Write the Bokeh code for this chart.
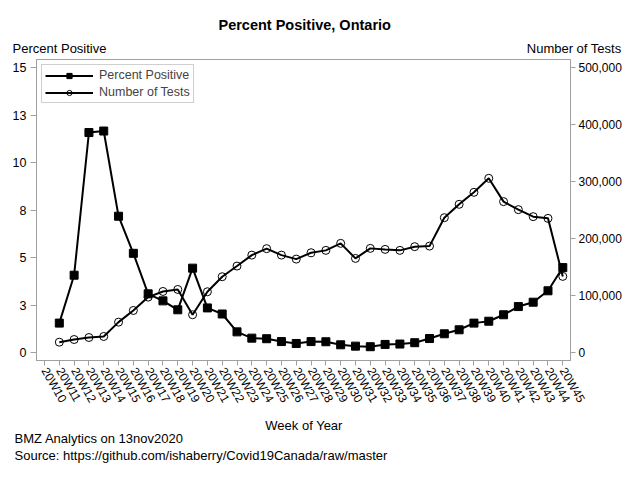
import math
from bokeh.plotting import figure
from bokeh.models import (Range1d, LinearAxis, FixedTicker, NumeralTickFormatter,
                          Label, Legend, LegendItem)
from bokeh.embed import file_html
from bokeh.resources import INLINE

# datos (la semana 20W10 no tiene valor)
semanas = ["20W%d" % n for n in range(10, 46)]
porcentaje_positivo = [math.nan, 1.56, 4.08, 11.58, 11.66, 7.18, 5.23, 3.10, 2.73, 2.26,
                       4.45, 2.36, 2.04, 1.10, 0.77, 0.74, 0.59, 0.49, 0.59, 0.58,
                       0.42, 0.35, 0.32, 0.44, 0.46, 0.53, 0.75, 1.00, 1.21, 1.56,
                       1.66, 2.00, 2.43, 2.66, 3.26, 4.48]
numero_pruebas = [math.nan, 18600, 23300, 26800, 28600, 53700, 74200, 97600, 107500, 111000,
                  66700, 107000, 133300, 152000, 171200, 182500, 171200, 164200, 175400, 179500,
                  191800, 165400, 183000, 181200, 179500, 186000, 187000, 236800, 260200, 281200,
                  305800, 264900, 250900, 238600, 235600, 133900]

ticks_izq = [0, 2.5, 5, 7.5, 10, 12.5, 15]
etiquetas_izq = ["0", "3", "5", "8", "10", "13", "15"]
ticks_der = [0, 100000, 200000, 300000, 400000, 500000]

FUENTE = "Liberation Sans"
GRIS = "#a0a0a0"

ANCHO, ALTO = 624, 464
BORDE_IZQ, BORDE_DER, BORDE_SUP, BORDE_INF = 36, 53, 59, 104
X0, X1 = -0.54, 35.52
Y0, Y1 = -0.405, 15.42
marco_w = ANCHO - BORDE_IZQ - BORDE_DER
marco_h = ALTO - BORDE_SUP - BORDE_INF


def px_a_x(px):
    return X0 + (px - BORDE_IZQ) * (X1 - X0) / marco_w


def px_a_y(py):
    return Y1 - (py - BORDE_SUP) * (Y1 - Y0) / marco_h


x = list(range(len(semanas)))

p = figure(width=ANCHO, height=ALTO, output_backend="svg", toolbar_location=None,
           x_range=Range1d(X0, X1), y_range=Range1d(Y0, Y1),
           min_border_left=BORDE_IZQ, min_border_right=BORDE_DER,
           min_border_top=BORDE_SUP, min_border_bottom=BORDE_INF)
p.extra_y_ranges = {"pruebas": Range1d(-13500, 514000)}

p.xgrid.visible = False
p.ygrid.visible = False
p.outline_line_color = GRIS
p.background_fill_color = "white"
p.border_fill_color = "white"

# eje x
eje_x = p.xaxis[0]
eje_x.ticker = FixedTicker(ticks=x)
eje_x.major_label_overrides = {i: s for i, s in enumerate(semanas)}
eje_x.major_label_orientation = math.radians(-60)

# eje izquierdo
eje_y = p.yaxis[0]
eje_y.ticker = FixedTicker(ticks=ticks_izq)
eje_y.formatter = NumeralTickFormatter(format="0")
eje_y.major_label_overrides = {t: e for t, e in zip(ticks_izq, etiquetas_izq)}

# eje derecho
eje_der = LinearAxis(y_range_name="pruebas", ticker=FixedTicker(ticks=ticks_der),
                     formatter=NumeralTickFormatter(format="0,0"))
p.add_layout(eje_der, "right")

for eje in [eje_x, eje_y, eje_der]:
    eje.axis_line_color = GRIS
    eje.major_tick_line_color = GRIS
    eje.major_tick_out = 6
    eje.major_tick_in = 0
    eje.minor_tick_line_color = None
    eje.major_label_text_font = FUENTE
    eje.major_label_text_font_size = "12.5px"
    eje.major_label_text_color = "black"
    eje.major_label_standoff = 4
eje_x.major_tick_out = 5
eje_x.major_label_standoff = 3
eje_x.major_label_text_font_size = "12px"
eje_der.major_tick_out = 5
eje_der.major_label_standoff = 3
eje_der.major_label_text_font_size = "12px"

l1 = p.line(x, porcentaje_positivo, line_color="black", line_width=2)
m1 = p.scatter(x, porcentaje_positivo, marker="square", size=8, fill_color="black", line_color="black")
l2 = p.line(x, numero_pruebas, line_color="black", line_width=2, y_range_name="pruebas")
m2 = p.scatter(x, numero_pruebas, marker="circle", size=8, fill_color=None, line_color="black",
               line_width=1, y_range_name="pruebas")

leyenda = Legend(items=[LegendItem(label="Percent Positive", renderers=[l1, m1]),
                        LegendItem(label="Number of Tests", renderers=[l2, m2])],
                 location="top_left", margin=5, padding=3, spacing=3,
                 glyph_width=48, glyph_height=13, label_height=13, label_standoff=6,
                 label_text_font=FUENTE, label_text_font_size="12.5px",
                 border_line_color=GRIS, background_fill_alpha=1)
p.add_layout(leyenda, "center")

# textos fuera del marco: posicion en pixeles del lienzo, panel donde van
textos = [
    ("Percent Positive, Ontario", 304.7, 24.3, "center", "bold", "14.5px", "above"),
    ("Percent Positive", 12, 48, "left", "normal", "13px", "above"),
    ("Number of Tests", 622, 48, "right", "normal", "13px", "above"),
    ("Week of Year", 304, 425, "center", "normal", "13px", "below"),
    ("BMZ Analytics on 13nov2020", 14, 438, "left", "normal", "13px", "below"),
    ("Source: https://github.com/ishaberry/Covid19Canada/raw/master", 14, 455, "left", "normal", "13px", "below"),
]
for texto, tx, ty, alin, estilo, tam, lugar in textos:
    p.add_layout(Label(x=px_a_x(tx), y=px_a_y(ty), text=texto,
                       text_align=alin, text_baseline="alphabetic", text_font=FUENTE,
                       text_font_style=estilo, text_font_size=tam, text_color="black"), lugar)

open("out.html", "w").write(file_html(p, INLINE))
